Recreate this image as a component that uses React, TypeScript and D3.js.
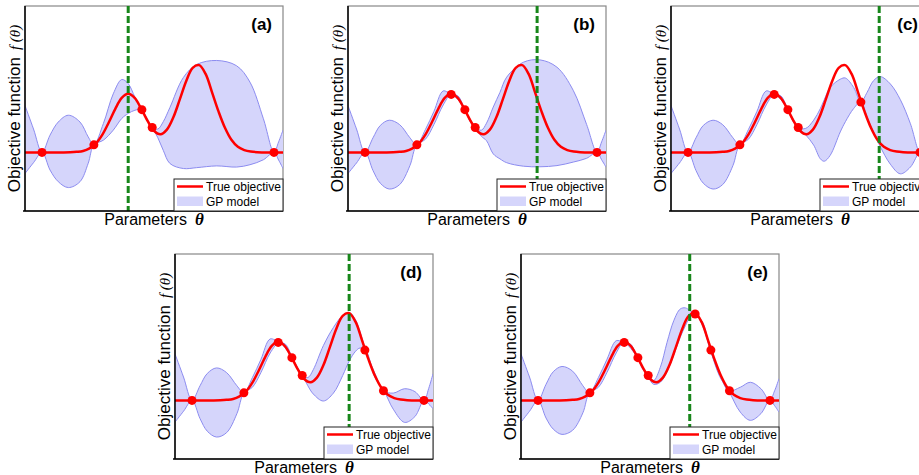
import React from 'react';
import * as d3 from 'd3';

// panels and the order in which samples were taken
const panelLabels = ['(a)', '(b)', '(c)', '(d)', '(e)'];
const obsTheta = [0.066, 0.267, 0.453, 0.493, 0.965, 0.4, 0.736, 0.808, 0.675];
const obsF = [0, 0.26, 1.46, 0.85, 0, 1.98, 1.72, 0.33, 2.95];
const obsCount = [5, 6, 7, 8, 9];
const nextTheta = [0.4, 0.733, 0.807, 0.675, 0.654];

// true objective
const trueTheta = [0, 0.1, 0.15, 0.175, 0.2, 0.225, 0.25, 0.275, 0.3, 0.325, 0.35, 0.375, 0.4, 0.425, 0.45, 0.475, 0.5, 0.525, 0.55, 0.575, 0.6, 0.625, 0.65, 0.675, 0.7, 0.725, 0.75, 0.775, 0.8, 0.825, 0.85, 0.875, 0.9, 0.95, 1];
const trueF = [0, 0, 0, 0.005, 0.02, 0.05, 0.14, 0.31, 0.61, 1.03, 1.49, 1.86, 2.0, 1.86, 1.5, 1.08, 0.74, 0.62, 0.78, 1.2, 1.81, 2.44, 2.89, 2.98, 2.68, 2.05, 1.4, 0.84, 0.43, 0.19, 0.08, 0.03, 0.01, 0, 0];

// GP band per panel: [theta, lower, upper]
const gpA = [
  [0, -0.72, 1.6], [0.033, -0.35, 0.8], [0.066, 0, 0], [0.097, -0.6, 0.59], [0.129, -1.0, 1.04],
  [0.168, -1.2, 1.27], [0.213, -1.0, 1.04], [0.245, -0.37, 0.53], [0.267, 0.26, 0.26],
  [0.304, 0.42, 0.99], [0.342, 0.76, 2.0], [0.375, 1.16, 2.49], [0.4, 1.33, 2.35], [0.426, 1.44, 1.89],
  [0.453, 1.46, 1.46], [0.473, 1.08, 1.17], [0.493, 0.85, 0.85], [0.515, 0.5, 0.8], [0.536, 0.07, 1.05],
  [0.562, -0.38, 1.54], [0.614, -0.55, 2.56], [0.665, -0.52, 3.0], [0.743, -0.46, 3.14], [0.82, -0.5, 2.96],
  [0.872, -0.42, 2.4], [0.924, -0.25, 1.15], [0.965, 0, 0], [0.983, -0.26, 0.36], [1, -0.55, 0.76]
];
const gpB = [
  [0, -0.72, 1.6], [0.033, -0.36, 0.8], [0.066, 0, 0], [0.097, -0.62, 0.5], [0.125, -1.05, 0.92],
  [0.16, -1.25, 1.1], [0.2, -1.1, 0.95], [0.24, -0.45, 0.5], [0.266, 0.26, 0.26],
  [0.3, 0.45, 0.78], [0.333, 0.95, 1.4], [0.369, 1.62, 2.1], [0.4, 1.98, 1.98], [0.426, 1.8, 1.93],
  [0.453, 1.46, 1.46], [0.473, 1.06, 1.14], [0.493, 0.85, 0.85], [0.517, 0.55, 0.76], [0.537, 0.4, 1.0],
  [0.563, -0.05, 1.55], [0.589, -0.22, 2.05], [0.615, -0.35, 2.57], [0.68, -0.47, 3.08], [0.744, -0.49, 3.16],
  [0.81, -0.45, 2.91], [0.873, -0.33, 2.12], [0.925, -0.2, 0.95], [0.965, 0, 0], [0.983, -0.25, 0.36], [1, -0.5, 0.76]
];
const gpC = [
  [0, -0.72, 1.6], [0.033, -0.36, 0.8], [0.066, 0, 0], [0.097, -0.62, 0.5], [0.125, -1.05, 0.92],
  [0.163, -1.25, 1.1], [0.2, -1.1, 0.95], [0.24, -0.45, 0.5], [0.266, 0.26, 0.26],
  [0.3, 0.45, 0.78], [0.333, 0.95, 1.4], [0.369, 1.62, 2.1], [0.4, 1.98, 1.98], [0.426, 1.8, 1.93],
  [0.453, 1.46, 1.46], [0.473, 1.06, 1.14], [0.493, 0.85, 0.85], [0.522, 0.6, 0.82], [0.553, 0.25, 1.1],
  [0.579, -0.22, 1.5], [0.594, -0.3, 1.8], [0.617, -0.1, 2.22], [0.656, 0.7, 2.5], [0.676, 1.05, 2.54],
  [0.708, 1.5, 2.22], [0.736, 1.72, 1.72], [0.76, 1.2, 2.05], [0.785, 0.7, 2.45], [0.811, 0.2, 2.59],
  [0.85, -0.4, 2.34], [0.889, -0.73, 1.8], [0.928, -0.5, 0.98], [0.965, 0, 0], [0.983, -0.25, 0.36], [1, -0.55, 0.76]
];
const gpD = [
  [0, -0.74, 1.59], [0.033, -0.37, 0.8], [0.066, 0, 0], [0.097, -0.62, 0.5], [0.125, -1.05, 0.92],
  [0.161, -1.25, 1.11], [0.2, -1.1, 0.95], [0.24, -0.45, 0.5], [0.267, 0.26, 0.26],
  [0.3, 0.45, 0.78], [0.333, 0.95, 1.4], [0.369, 1.62, 2.1], [0.404, 1.98, 1.98], [0.428, 1.78, 1.92],
  [0.455, 1.45, 1.45], [0.474, 1.06, 1.14], [0.494, 0.85, 0.85], [0.515, 0.5, 0.78], [0.536, 0.22, 1.05],
  [0.575, -0.02, 1.87], [0.614, 0.25, 2.49], [0.65, 0.85, 2.9], [0.676, 1.36, 3.0], [0.7, 1.68, 2.75],
  [0.717, 1.79, 2.35], [0.739, 1.72, 1.72], [0.775, 0.78, 0.92], [0.81, 0.33, 0.33], [0.846, -0.3, 0.25],
  [0.89, -0.75, 0.4], [0.93, -0.55, 0.3], [0.965, 0, 0], [0.983, -0.12, 0.4], [1, -0.28, 0.91]
];
const gpE = [
  [0, -0.74, 1.59], [0.033, -0.37, 0.8], [0.066, 0, 0], [0.097, -0.6, 0.55], [0.125, -0.98, 0.98],
  [0.159, -1.16, 1.16], [0.2, -1.02, 1.0], [0.24, -0.42, 0.5], [0.265, 0.26, 0.26],
  [0.3, 0.45, 0.78], [0.333, 0.95, 1.4], [0.369, 1.62, 2.04], [0.398, 1.98, 1.98], [0.425, 1.78, 1.92],
  [0.451, 1.46, 1.46], [0.471, 1.08, 1.16], [0.491, 0.85, 0.85], [0.514, 0.55, 0.68], [0.54, 0.62, 1.13],
  [0.566, 0.98, 1.98], [0.592, 1.55, 2.72], [0.617, 2.15, 3.12], [0.637, 2.55, 3.16], [0.656, 2.85, 3.06],
  [0.676, 2.95, 2.95], [0.705, 2.52, 2.65], [0.734, 1.72, 1.72], [0.77, 0.82, 0.92], [0.805, 0.33, 0.33],
  [0.85, -0.4, 0.45], [0.889, -0.68, 0.62], [0.93, -0.45, 0.4], [0.964, 0, 0], [0.983, -0.18, 0.33], [1, -0.4, 0.74]
];
const gpPanels = [gpA, gpB, gpC, gpD, gpE];

const W = 258;
const H = 205;
const origins = [[25, 6], [348, 6], [671, 6], [175, 254], [521, 254]];

const sans = '"Liberation Sans", Arial, sans-serif';
const serif = '"Liberation Serif", "DejaVu Serif", serif';

function Panel({ i }: { i: number }) {
  const [left, top] = origins[i];
  const right = left + W;
  const bottom = top + H;
  const x = d3.scaleLinear().domain([0, 1]).range([left, right]);
  const y = d3.scaleLinear().domain([-2, 5]).range([bottom, top]);
  const curve = d3.curveCatmullRom.alpha(0.5);

  const gp = gpPanels[i];
  const band = d3.area<number[]>().x(d => x(d[0])).y0(d => y(d[1])).y1(d => y(d[2])).curve(curve);
  const lo = d3.line<number[]>().x(d => x(d[0])).y(d => y(d[1])).curve(curve);
  const hi = d3.line<number[]>().x(d => x(d[0])).y(d => y(d[2])).curve(curve);
  const truePts = trueTheta.map((t, k) => [t, trueF[k]]);
  const trueLine = d3.line<number[]>().x(d => x(d[0])).y(d => y(d[1])).curve(curve);
  const n = obsCount[i];
  const clip = `clip${i}`;

  return (
    <g>
      <defs>
        <clipPath id={clip}>
          <rect x={left} y={top} width={W} height={H} />
        </clipPath>
      </defs>
      <rect x={left} y={top} width={W} height={H} fill="#fff" stroke="#888" strokeWidth={1.2} />
      <g clipPath={`url(#${clip})`}>
        <path d={band(gp) || ''} fill="#d5d5fb" />
        <path d={lo(gp) || ''} fill="none" stroke="#8c8cf0" strokeWidth={1} />
        <path d={hi(gp) || ''} fill="none" stroke="#8c8cf0" strokeWidth={1} />
        <path d={trueLine(truePts) || ''} fill="none" stroke="#ff0000" strokeWidth={2.5} />
        <line x1={x(nextTheta[i])} x2={x(nextTheta[i])} y1={top} y2={bottom}
          stroke="#17861a" strokeWidth={3} strokeDasharray="7,3" />
        {obsTheta.slice(0, n).map((t, k) => (
          <circle key={k} cx={x(t)} cy={y(obsF[k])} r={4.5} fill="#ff0000" />
        ))}
      </g>
      <line x1={left} x2={left} y1={top} y2={bottom} stroke="#000" strokeWidth={1.5} />
      <line x1={left - 2} x2={right} y1={bottom} y2={bottom} stroke="#000" strokeWidth={1.5} />

      <text x={right - 11} y={top + 24} textAnchor="end" fontFamily={sans} fontWeight="bold" fontSize={17}>
        {panelLabels[i]}
      </text>

      {/* legend */}
      <rect x={right - 109} y={bottom - 32} width={109} height={32} fill="#fff" stroke="#222" strokeWidth={1} />
      <line x1={right - 106} x2={right - 80} y1={bottom - 24.5} y2={bottom - 24.5} stroke="#ff0000" strokeWidth={2.5} />
      <text x={right - 77} y={bottom - 20.5} fontFamily={sans} fontSize={12}>True objective</text>
      <rect x={right - 106} y={bottom - 14.5} width={26} height={9.5} fill="#d5d5fb" />
      <text x={right - 77} y={bottom - 5} fontFamily={sans} fontSize={12}>GP model</text>

      {/* axis labels */}
      <text x={(left + right) / 2} y={bottom + 13.5} textAnchor="middle" fontFamily={sans} fontSize={16}>
        Parameters
        <tspan dx={8} fontFamily={serif} fontStyle="italic" fontWeight="bold" fontSize={17}>θ</tspan>
      </text>
      <text transform={`translate(${left - 5},${(top + bottom) / 2}) rotate(-90)`} textAnchor="middle"
        fontFamily={sans} fontSize={17}>
        Objective function
        <tspan dx={7} fontFamily={serif} fontStyle="italic" fontSize={15}>f (θ)</tspan>
      </text>
    </g>
  );
}

export default function App() {
  return (
    <svg width={919} height={475} style={{ position: 'absolute', left: 0, top: 0, background: '#fff' }}>
      {panelLabels.map((_, i) => <Panel key={i} i={i} />)}
    </svg>
  );
}
